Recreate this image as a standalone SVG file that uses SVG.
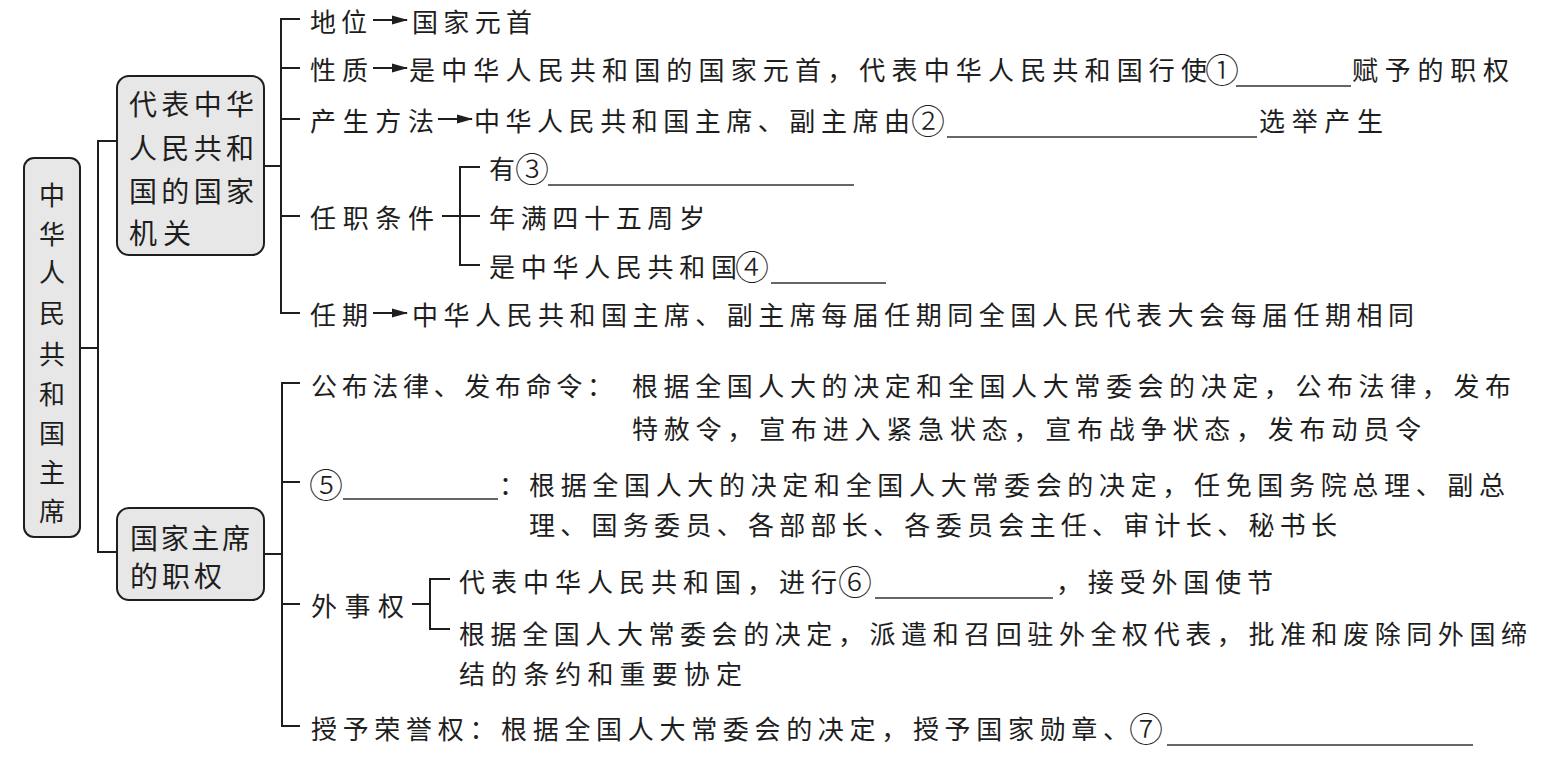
<svg xmlns="http://www.w3.org/2000/svg" width="1545" height="758" viewBox="0 0 1545 758">
<defs>
<style>
.t{font-family:"Noto Sans CJK SC","Noto Sans CJK JP",sans-serif;font-size:26px;fill:#1e1e1e;dominant-baseline:central}
.n{font-family:"Noto Sans CJK SC","Noto Sans CJK JP",sans-serif;font-size:28px;fill:#1e1e1e;dominant-baseline:central}
.r{font-family:"Noto Sans CJK SC","Noto Sans CJK JP",sans-serif;font-size:26px;fill:#1e1e1e;dominant-baseline:central;text-anchor:middle}
.c{font-family:"Noto Sans CJK SC","Noto Sans CJK JP",sans-serif;font-size:34px;font-weight:300;fill:#1e1e1e;dominant-baseline:central;text-anchor:middle}
.box{fill:#e7e7e7;stroke:#1e1e1e;stroke-width:2}
.ln{fill:none;stroke:#1e1e1e;stroke-width:2}
.ul{fill:none;stroke:#333;stroke-width:1.5}
.ar{fill:none;stroke:#1e1e1e;stroke-width:2;marker-end:url(#ah)}
</style>
<marker id="ah" viewBox="0 0 16 10" refX="15" refY="5" markerWidth="16" markerHeight="10" markerUnits="userSpaceOnUse" orient="auto">
<path d="M0,0.5 L16,5 L0,9.5 z" fill="#1e1e1e"/>
</marker>
</defs>
<rect width="1545" height="758" fill="#ffffff"/>

<g id="connectors">
<path class="ln" d="M80,348 H98 M117,141 H98 V552 H117"/>
<path class="ln" d="M264,166 H281 M300,19 H281 V313 H300 M281,68 H300 M281,119 H300 M281,216 H300"/>
<path class="ln" d="M442,216 H480 M480,167 H460 V265 H480"/>
<path class="ln" d="M264,554 H282 M300,383 H282 V726 H300 M282,482 H300 M282,604 H300"/>
<path class="ln" d="M412,604 H430 M450,579 H430 V629 H450"/>
<line class="ar" x1="373" y1="20" x2="407" y2="20"/>
<line class="ar" x1="373" y1="68" x2="407" y2="68"/>
<line class="ar" x1="438" y1="119" x2="472" y2="119"/>
<line class="ar" x1="373" y1="313" x2="407" y2="313"/>
</g>

<g id="root">
<rect class="box" x="24" y="158" width="56" height="379" rx="10"/>
<text class="r"><tspan x="52" y="193">中</tspan><tspan x="52" y="232">华</tspan><tspan x="52" y="270">人</tspan><tspan x="52" y="311">民</tspan><tspan x="52" y="352">共</tspan><tspan x="52" y="392">和</tspan><tspan x="52" y="431">国</tspan><tspan x="52" y="470">主</tspan><tspan x="52" y="509">席</tspan></text>
</g>

<g id="node-organ">
<rect class="box" x="117" y="76" width="147" height="179" rx="12"/>
<text class="n" x="129" y="103" textLength="125" lengthAdjust="spacing">代表中华</text>
<text class="n" x="129" y="147" textLength="125" lengthAdjust="spacing">人民共和</text>
<text class="n" x="129" y="190" textLength="125" lengthAdjust="spacing">国的国家</text>
<text class="n" x="129" y="232" textLength="62" lengthAdjust="spacing">机关</text>
</g>

<g id="node-powers">
<rect class="box" x="117" y="508" width="147" height="92" rx="12"/>
<text class="n" x="130" y="537" textLength="120" lengthAdjust="spacing">国家主席</text>
<text class="n" x="130" y="575" textLength="92" lengthAdjust="spacing">的职权</text>
</g>

<g id="item-status">
<text class="t" x="310" y="20" textLength="57" lengthAdjust="spacing">地位</text>
<text class="t" x="412" y="20" textLength="120" lengthAdjust="spacing">国家元首</text>
</g>

<g id="item-nature">
<text class="t" x="310" y="68" textLength="58" lengthAdjust="spacing">性质</text>
<text class="t" x="409" y="68" textLength="798" lengthAdjust="spacing">是中华人民共和国的国家元首，代表中华人民共和国行使</text>
<text class="c" x="1222" y="68">①</text>
<line class="ul" x1="1236" y1="86" x2="1351" y2="86"/>
<text class="t" x="1352" y="68" textLength="157" lengthAdjust="spacing">赋予的职权</text>
</g>

<g id="item-election">
<text class="t" x="310" y="119" textLength="124" lengthAdjust="spacing">产生方法</text>
<text class="t" x="474" y="119" textLength="436" lengthAdjust="spacing">中华人民共和国主席、副主席由</text>
<text class="c" x="928" y="119">②</text>
<line class="ul" x1="947" y1="137" x2="1257" y2="137"/>
<text class="t" x="1259" y="119" textLength="124" lengthAdjust="spacing">选举产生</text>
</g>

<g id="item-conditions">
<text class="t" x="310" y="216" textLength="124" lengthAdjust="spacing">任职条件</text>
<text class="t" x="489" y="167">有</text>
<text class="c" x="532" y="167">③</text>
<line class="ul" x1="548" y1="185" x2="854" y2="185"/>
<text class="t" x="489" y="216" textLength="216" lengthAdjust="spacing">年满四十五周岁</text>
<text class="t" x="489" y="265" textLength="248" lengthAdjust="spacing">是中华人民共和国</text>
<text class="c" x="752" y="265">④</text>
<line class="ul" x1="771" y1="283" x2="886" y2="283"/>
</g>

<g id="item-term">
<text class="t" x="310" y="313" textLength="58" lengthAdjust="spacing">任期</text>
<text class="t" x="412" y="313" textLength="1002" lengthAdjust="spacing">中华人民共和国主席、副主席每届任期同全国人民代表大会每届任期相同</text>
</g>

<g id="power-law">
<text class="t" x="311" y="384" textLength="302" lengthAdjust="spacing">公布法律、发布命令：</text>
<text class="t" x="632" y="384" textLength="879" lengthAdjust="spacing">根据全国人大的决定和全国人大常委会的决定，公布法律，发布</text>
<text class="t" x="632" y="427" textLength="789" lengthAdjust="spacing">特赦令，宣布进入紧急状态，宣布战争状态，发布动员令</text>
</g>

<g id="power-appoint">
<text class="c" x="326" y="483">⑤</text>
<line class="ul" x1="343" y1="499" x2="498" y2="499"/>
<text class="t" x="499" y="483">：</text>
<text class="t" x="529" y="483" textLength="976" lengthAdjust="spacing">根据全国人大的决定和全国人大常委会的决定，任免国务院总理、副总</text>
<text class="t" x="529" y="523" textLength="808" lengthAdjust="spacing">理、国务委员、各部部长、各委员会主任、审计长、秘书长</text>
</g>

<g id="power-foreign">
<text class="t" x="311" y="604" textLength="93" lengthAdjust="spacing">外事权</text>
<text class="t" x="459" y="580" textLength="378" lengthAdjust="spacing">代表中华人民共和国，进行</text>
<text class="c" x="855" y="580">⑥</text>
<line class="ul" x1="875" y1="598" x2="1053" y2="598"/>
<text class="t" x="1056" y="580" textLength="217" lengthAdjust="spacing">，接受外国使节</text>
<text class="t" x="459" y="632" textLength="1068" lengthAdjust="spacing">根据全国人大常委会的决定，派遣和召回驻外全权代表，批准和废除同外国缔</text>
<text class="t" x="459" y="672" textLength="283" lengthAdjust="spacing">结的条约和重要协定</text>
</g>

<g id="power-honor">
<text class="t" x="311" y="727" textLength="818" lengthAdjust="spacing">授予荣誉权：根据全国人大常委会的决定，授予国家勋章、</text>
<text class="c" x="1146" y="727">⑦</text>
<line class="ul" x1="1167" y1="745" x2="1473" y2="745"/>
</g>
</svg>
